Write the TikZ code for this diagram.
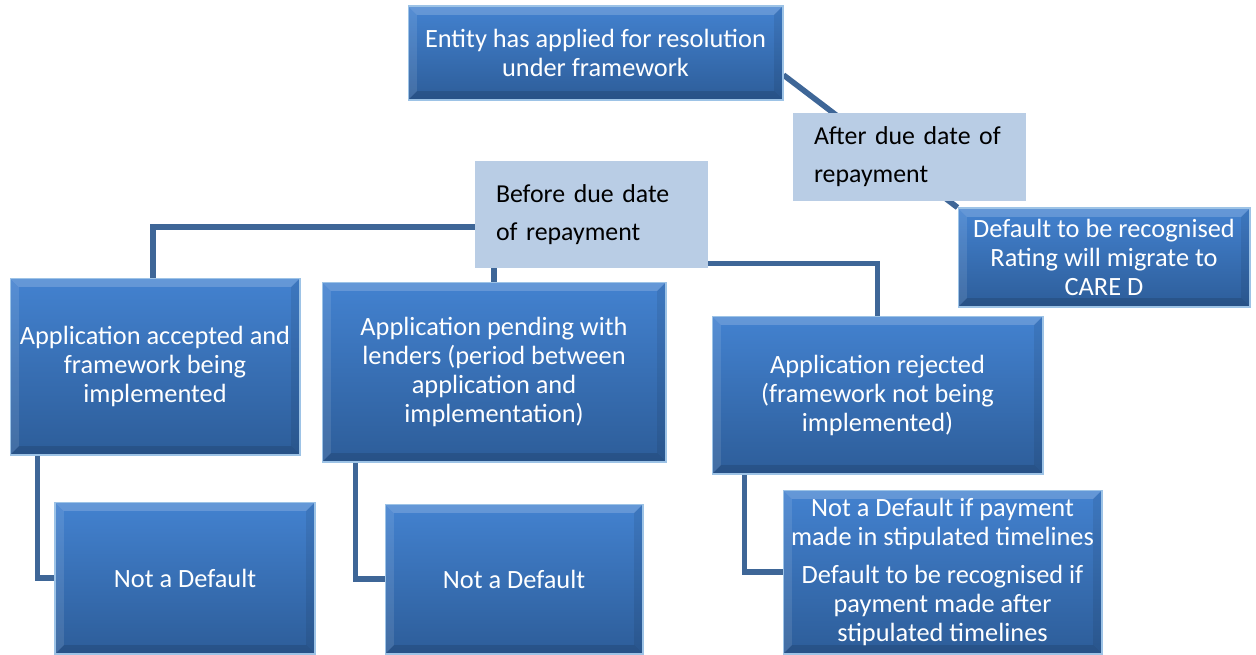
\documentclass[tikz,border=0pt]{standalone}
\usepackage{fontspec}
\setmainfont{Carlito}
\usetikzlibrary{positioning,calc,shadows,backgrounds}
\definecolor{boxtop}{HTML}{4382D0}
\definecolor{boxbot}{HTML}{2D5D99}
\definecolor{boxrim}{HTML}{9DC3E6}
\definecolor{lblfill}{HTML}{B9CDE5}
\definecolor{linkblue}{HTML}{3E6697}
\tikzset{
  bevel/.style={path picture={
    \coordinate (nw) at (path picture bounding box.north west);
    \coordinate (ne) at (path picture bounding box.north east);
    \coordinate (sw) at (path picture bounding box.south west);
    \coordinate (se) at (path picture bounding box.south east);
    \fill [white,opacity=0.18] (nw) -- (ne) -- ($(ne)+(-5pt,-5pt)$) -- ($(nw)+(5pt,-5pt)$) -- cycle;
    \fill [white,opacity=0.10] (nw) -- (sw) -- ($(sw)+(5pt,5pt)$) -- ($(nw)+(5pt,-5pt)$) -- cycle;
    \fill [black,opacity=0.12] (sw) -- (se) -- ($(se)+(-5pt,5pt)$) -- ($(sw)+(5pt,5pt)$) -- cycle;
    \fill [black,opacity=0.08] (ne) -- (se) -- ($(se)+(-5pt,5pt)$) -- ($(ne)+(-5pt,-5pt)$) -- cycle;}},
  bluebox/.style={draw=boxrim, line width=0.6pt, top color=boxtop, bottom color=boxbot, bevel,
    text=white, align=center, inner sep=1pt, font=\fontsize{15}{16.5}\selectfont,
    drop shadow={opacity=0.35,shadow xshift=0.8pt,shadow yshift=-0.8pt}},
  labelbox/.style={fill=lblfill, align=left, text width=3.82cm, inner xsep=0.42cm,
    minimum width=4.66cm, font=\fontsize{14.7}{21.6}\selectfont},
  link/.style={draw=linkblue, line width=3.2pt}
}
\begin{document}
\begin{tikzpicture}[x=0.02cm,y=-0.02cm]
   \useasboundingbox (0,0) rectangle (1256,654);
   % top of the tree
   \node [bluebox, minimum width=7.5cm, minimum height=1.88cm] (entity) at (595.5,53)
      {Entity has applied for resolution\\under framework};
   \node [labelbox, minimum height=1.76cm] (after) at (909.5,157) {After due date of\\repayment};
   \node [labelbox, minimum height=2.14cm] (before) at (591.5,214.5) {Before due date\\of repayment};
   \node [bluebox, minimum width=5.84cm, minimum height=1.98cm] (cared) at (1104,257.5)
      {Default to be recognised\\Rating will migrate to\\CARE D};
   % second row
   \node [bluebox, minimum width=5.8cm, minimum height=3.54cm] (accepted) at (155,366.5)
      {Application accepted and\\framework being\\implemented};
   \node [bluebox, minimum width=6.88cm, minimum height=3.6cm] (pending) at (494,372)
      {Application pending with\\lenders (period between\\application and\\implementation)};
   \node [bluebox, minimum width=6.62cm, minimum height=3.16cm] (rejected) at (877.5,395)
      {Application rejected\\(framework not being\\implemented)};
   % bottom row
   \node [bluebox, minimum width=5.2cm, minimum height=3.04cm] (nodef1) at (185,578) {Not a Default};
   \node [bluebox, minimum width=5.16cm, minimum height=3.0cm] (nodef2) at (514,579) {Not a Default};
   \node [bluebox, minimum width=6.38cm, minimum height=3.28cm] (timeline) at (942.5,572)
      {Not a Default if payment\\made in stipulated timelines\\[5pt]Default to be recognised if\\payment made after\\stipulated timelines};
   % connectors
   \begin{pgfonlayer}{background}
      \draw [link] ($(entity.south)+(2,0)$) -- ($(entity.south)+(2,0)$ |- before.north);
      \draw [link] ($(entity.east)+(0,22)$) -- (cared.north west);
      \draw [link] ($(before.west)+(0,12.5)$) -| ($(accepted.north)+(-2,0)$);
      \draw [link] (pending.north |- before.south) -- (pending.north);
      \draw [link] ($(before.south east)+(0,-5)$) -| (rejected.north);
      \draw [link] ($(accepted.south west)+(28,0)$) |- (nodef1.west);
      \draw [link] ($(pending.south west)+(34,0)$) |- (nodef2.west);
      \draw [link] ($(rejected.south west)+(33,0)$) |- (timeline.west);
   \end{pgfonlayer}
\end{tikzpicture}
\end{document}
